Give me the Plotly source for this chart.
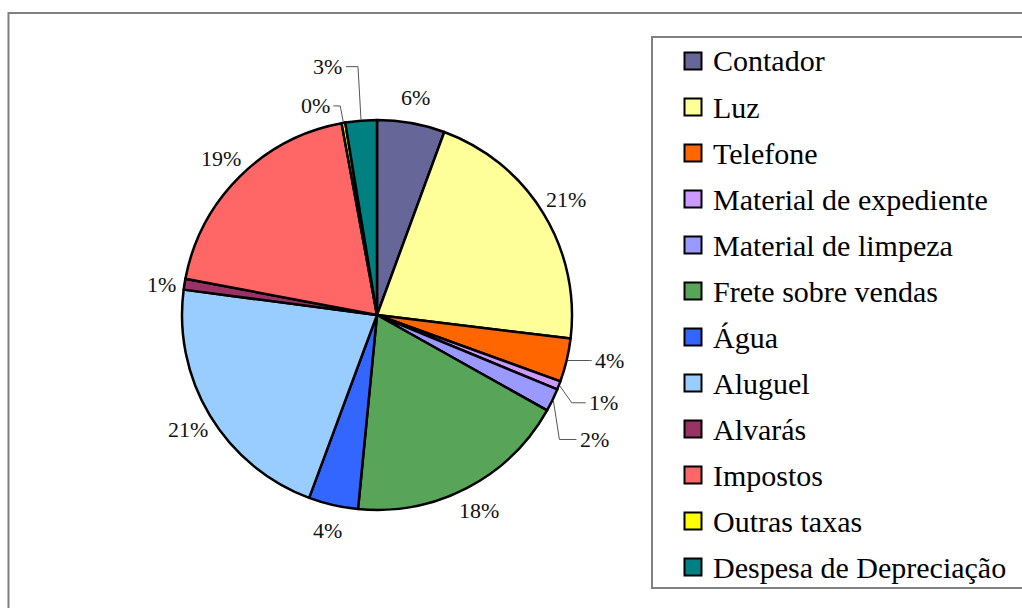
import math
import plotly.graph_objects as go

categories = ["Contador", "Luz", "Telefone", "Material de expediente", "Material de limpeza",
              "Frete sobre vendas", "Água", "Aluguel", "Alvarás", "Impostos",
              "Outras taxas", "Despesa de Depreciação"]
values = [5.6, 21.3, 3.6, 0.7, 1.9, 18.4, 4.1, 21.4, 0.9, 19.1, 0.3, 2.6]
colors = ["#666699", "#FFFF99", "#FF6600", "#CC99FF", "#9999FF", "#58A458",
          "#3366FF", "#99CCFF", "#993366", "#FF6666", "#FFFF00", "#008080"]

# label placement styling relative to slice edge: (text_dx, text_dy, elbow_dx, leader_line); None = radial
label_style = [None, None, (42, 0, 22, True), (44, 17, 12, True), (41, 39, 6, True), None,
               None, None, (-22, 0, 0, False), None, (-28, -16, -3, True), (-33, -53, -3, True)]

W, H = 1022, 608
CX, CY, R = 377, 315, 195
R_LAB = 221
HALF_TXT = 18
FONT = "Liberation Serif"


def px(x):
    return x / W


def py(y):
    return 1 - y / H


fig = go.Figure()
fig.add_trace(go.Pie(
    labels=categories, values=values, sort=False, direction="clockwise", rotation=0,
    marker=dict(colors=colors, line=dict(color="black", width=2.5)),
    textinfo="none", hoverinfo="label+percent", showlegend=False,
    domain=dict(x=[px(CX - R), px(CX + R)], y=[py(CY + R), py(CY - R)]),
))

shapes = [
    dict(type="rect", xref="paper", yref="paper", x0=px(8.5), x1=px(1040), y0=py(13), y1=py(640),
         line=dict(color="#808080", width=2), fillcolor="rgba(0,0,0,0)", layer="below"),
    dict(type="rect", xref="paper", yref="paper", x0=px(652), x1=px(1040), y0=py(37), y1=py(588),
         line=dict(color="#808080", width=2), fillcolor="rgba(0,0,0,0)", layer="below"),
]
annotations = []

total = sum(values)
cum = 0.0
for name, v, st in zip(categories, values, label_style):
    mid = (cum + v / 2) / total * 2 * math.pi
    cum += v
    pct = f"{round(v / total * 100):.0f}%"
    sx, sy = math.sin(mid), -math.cos(mid)
    if st is None:
        lx, ly = CX + R_LAB * sx, CY + R_LAB * sy
    else:
        ex, ey = CX + (R + 1) * sx, CY + (R + 1) * sy
        ox, oy, bx, line = st
        lx, ly = ex + ox, ey + oy
        if line:
            sign = 1 if ox > 0 else -1
            endx = lx - sign * HALF_TXT
            path = (f"M {px(ex)} {py(ey)} L {px(ex + bx)} {py(ly)} L {px(endx)} {py(ly)}")
            shapes.append(dict(type="path", xref="paper", yref="paper", path=path,
                               line=dict(color="#555555", width=1)))
    annotations.append(dict(x=px(lx), y=py(ly), xref="paper", yref="paper", text=pct,
                            showarrow=False, xanchor="center", yanchor="middle",
                            font=dict(family=FONT, size=22, color="#111111")))

# legend drawn as boxes + text
for i, (name, c) in enumerate(zip(categories, colors)):
    yc = 61 + 46 * i
    shapes.append(dict(type="rect", xref="paper", yref="paper",
                       x0=px(684.5), x1=px(701.5), y0=py(yc - 8.5), y1=py(yc + 8.5),
                       line=dict(color="black", width=2), fillcolor=c))
    annotations.append(dict(x=px(711), y=py(yc), xref="paper", yref="paper", text=name,
                            showarrow=False, xanchor="left", yanchor="middle",
                            font=dict(family=FONT, size=30, color="black")))

fig.update_layout(
    width=W, height=H, margin=dict(l=0, r=0, t=0, b=0),
    paper_bgcolor="white", plot_bgcolor="white",
    shapes=shapes, annotations=annotations, showlegend=False,
)

fig.write_html("out.html", config={"displayModeBar": False},
               post_script="document.body.style.margin='0';")
